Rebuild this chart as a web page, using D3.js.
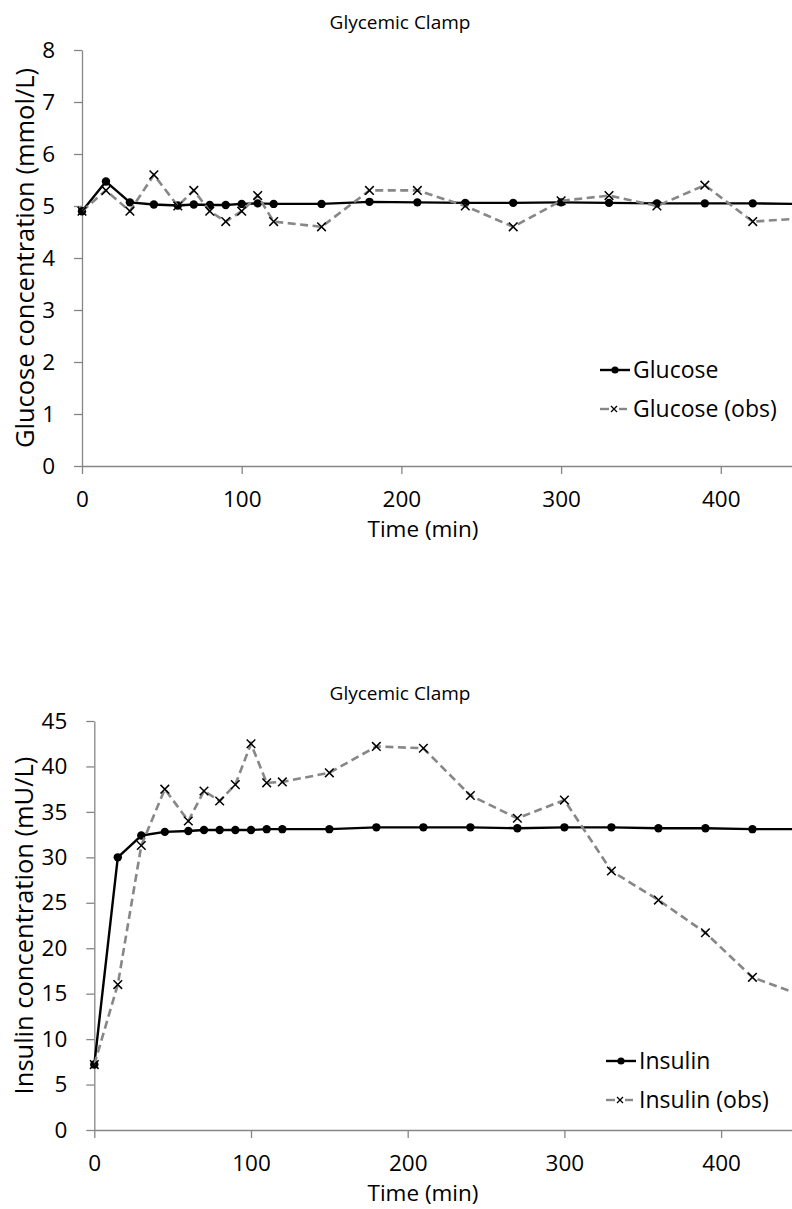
<!DOCTYPE html>
<html>
<head>
<meta charset="utf-8">
<script src="https://cdn.jsdelivr.net/npm/d3@7"></script>
<style>
  html, body { margin: 0; padding: 0; background: #fff; }
  svg { display: block; font-family: "Open Sans", sans-serif; }
</style>
</head>
<body>
<svg id="chart" width="792" height="1209"></svg>
<script>
// Sampling times (min)
const times = [0, 15, 30, 45, 60, 70, 80, 90, 100, 110, 120, 150, 180, 210, 240, 270, 300, 330, 360, 390, 420, 450];

// Glucose (mmol/L)
const glucoseModel = [4.9, 5.47, 5.07, 5.03, 5.01, 5.03, 5.02, 5.02, 5.04, 5.05, 5.04, 5.04, 5.08, 5.07, 5.06, 5.06, 5.07, 5.06, 5.05, 5.05, 5.05, 5.04];
const glucoseObs   = [4.9, 5.3, 4.9, 5.6, 5.0, 5.3, 4.9, 4.7, 4.9, 5.2, 4.7, 4.6, 5.3, 5.3, 5.0, 4.6, 5.1, 5.2, 5.0, 5.4, 4.7, 4.76];

// Insulin (mU/L)
const insulinModel = [7.2, 30.0, 32.4, 32.8, 32.9, 33.0, 33.0, 33.0, 33.0, 33.1, 33.1, 33.1, 33.3, 33.3, 33.3, 33.2, 33.3, 33.3, 33.2, 33.2, 33.1, 33.1];
const insulinObs   = [7.2, 16.0, 31.3, 37.5, 34.0, 37.3, 36.2, 38.0, 42.5, 38.2, 38.3, 39.3, 42.2, 42.0, 36.8, 34.3, 36.3, 28.5, 25.3, 21.7, 16.8, 14.9];

// Axis ticks
const xTicks = [0, 100, 200, 300, 400];
const glucoseTicks = [0, 1, 2, 3, 4, 5, 6, 7, 8];
const insulinTicks = [0, 5, 10, 15, 20, 25, 30, 35, 40, 45];

const chartTitle = "Glycemic Clamp";
const xTitle = "Time (min)";

const svg = d3.select("#chart");
const AXIS = "#868686";
const OBS = "#878787";

function panel(cfg) {
  const x = d3.scaleLinear().domain([0, 450]).range([cfg.x0, cfg.x0 + 450 * cfg.pxPerMin]);
  const y = d3.scaleLinear().domain([0, cfg.yMax]).range([cfg.yBottom, cfg.yTop]);
  const g = svg.append("g");

  // title
  g.append("text").attr("x", 400).attr("y", cfg.yTop - 21)
    .attr("text-anchor", "middle").attr("font-size", 19).attr("fill", "#000")
    .text(chartTitle);

  // y axis
  const ya = g.append("g").attr("transform", `translate(${cfg.x0},0)`)
    .call(d3.axisLeft(y).tickValues(cfg.yTicks).tickSize(8).tickSizeOuter(0).tickPadding(19).tickFormat(d3.format("d")));
  ya.select(".domain").attr("stroke", AXIS).attr("stroke-width", 1.3);
  ya.selectAll(".tick line").attr("stroke", AXIS).attr("stroke-width", 1.3);
  ya.selectAll(".tick text").attr("font-size", 22.5).attr("fill", "#000").attr("font-family", "Open Sans");

  // x axis
  const xa = g.append("g").attr("transform", `translate(0,${cfg.yBottom})`)
    .call(d3.axisBottom(x).tickValues(xTicks).tickSize(8).tickSizeOuter(0).tickFormat(d3.format("d")));
  xa.select(".domain").attr("stroke", AXIS).attr("stroke-width", 1.3);
  xa.selectAll(".tick line").attr("stroke", AXIS).attr("stroke-width", 1.3);
  xa.selectAll(".tick text").attr("font-size", 22.5).attr("fill", "#000")
    .attr("font-family", "Open Sans").attr("y", 41).attr("dy", 0);

  // axis titles
  g.append("text").attr("x", 423).attr("y", cfg.yBottom + 71)
    .attr("text-anchor", "middle").attr("font-size", 22.5).attr("fill", "#000").text(xTitle);
  g.append("text")
    .attr("transform", `translate(${cfg.yLabelX},${(cfg.yTop + cfg.yBottom) / 2}) rotate(-90)`)
    .attr("text-anchor", "middle").attr("dy", "0.35em").attr("font-size", 25.5).attr("fill", "#000")
    .text(cfg.yTitle);

  const line = d3.line().x((d, i) => x(times[i])).y(d => y(d));

  // model series
  g.append("path").datum(cfg.model).attr("d", line)
    .attr("fill", "none").attr("stroke", "#000").attr("stroke-width", 2.4).attr("stroke-linejoin", "round");
  g.append("g").selectAll("circle").data(cfg.model).join("circle")
    .attr("cx", (d, i) => x(times[i])).attr("cy", d => y(d)).attr("r", 4.2).attr("fill", "#000");

  // observed series
  g.append("path").datum(cfg.obs).attr("d", line)
    .attr("fill", "none").attr("stroke", OBS).attr("stroke-width", 2.6)
    .attr("stroke-dasharray", "8,4.5");
  const s = 4.3;
  g.append("g").selectAll("path").data(cfg.obs).join("path")
    .attr("d", (d, i) => {
      const cx = x(times[i]), cy = y(d);
      return `M${cx - s},${cy - s}L${cx + s},${cy + s}M${cx - s},${cy + s}L${cx + s},${cy - s}`;
    })
    .attr("stroke", "#000").attr("stroke-width", 1.5).attr("fill", "none");

  // legend
  const lg = g.append("g");
  const lx = cfg.legendX, ly = cfg.legendY;
  lg.append("line").attr("x1", lx).attr("x2", lx + 30).attr("y1", ly).attr("y2", ly)
    .attr("stroke", "#000").attr("stroke-width", 2.4);
  lg.append("circle").attr("cx", lx + 15).attr("cy", ly).attr("r", 3.6).attr("fill", "#000");
  lg.append("text").attr("x", lx + 33).attr("y", ly).attr("dy", "0.35em")
    .attr("font-size", 23).attr("fill", "#000").text(cfg.seriesNames[0]);
  const ly2 = ly + 39;
  lg.append("line").attr("x1", lx).attr("x2", lx + 9).attr("y1", ly2).attr("y2", ly2)
    .attr("stroke", OBS).attr("stroke-width", 2.4);
  lg.append("line").attr("x1", lx + 19).attr("x2", lx + 27).attr("y1", ly2).attr("y2", ly2)
    .attr("stroke", OBS).attr("stroke-width", 2.4);
  const ls = 3, lcx = lx + 14;
  lg.append("path")
    .attr("d", `M${lcx - ls},${ly2 - ls}L${lcx + ls},${ly2 + ls}M${lcx - ls},${ly2 + ls}L${lcx + ls},${ly2 - ls}`)
    .attr("stroke", "#000").attr("stroke-width", 1.3);
  lg.append("text").attr("x", lx + 33).attr("y", ly2).attr("dy", "0.35em")
    .attr("font-size", 23).attr("fill", "#000").text(cfg.seriesNames[1]);
}

panel({
  x0: 82, pxPerMin: 1.597, yTop: 50, yBottom: 466, yMax: 8, yTicks: glucoseTicks,
  yLabelX: 25, yTitle: "Glucose concentration (mmol/L)",
  model: glucoseModel, obs: glucoseObs,
  legendX: 600, legendY: 370, seriesNames: ["Glucose", "Glucose (obs)"]
});

panel({
  x0: 94.3, pxPerMin: 1.567, yTop: 721, yBottom: 1130, yMax: 45, yTicks: insulinTicks,
  yLabelX: 24, yTitle: "Insulin concentration (mU/L)",
  model: insulinModel, obs: insulinObs,
  legendX: 606, legendY: 1061, seriesNames: ["Insulin", "Insulin (obs)"]
});
</script>
</body>
</html>
